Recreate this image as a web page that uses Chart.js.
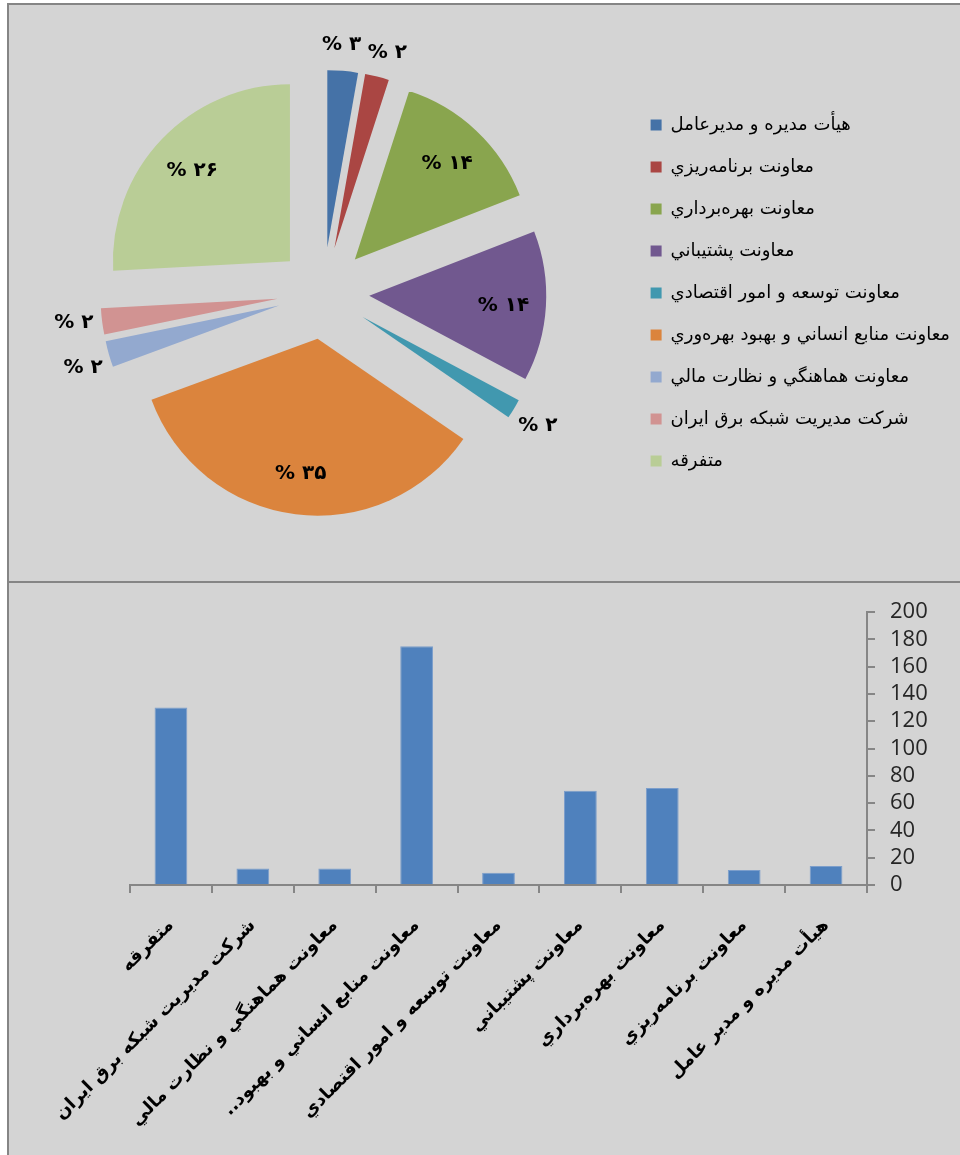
<!DOCTYPE html>
<html lang="fa">
<head>
<meta charset="utf-8">
<title>نمودار</title>
<script src="https://cdn.jsdelivr.net/npm/chart.js@4.4.1/dist/chart.umd.min.js"></script>
<style>
  html, body { margin: 0; padding: 0; background: #fff; }
  body { width: 960px; height: 1155px; position: relative; overflow: hidden; }
  .panel { position: absolute; background: #d4d4d4; box-sizing: border-box; }
  #topPanel { left: 7px; top: 3px; width: 970px; height: 580px; border: 2px solid #858585; }
  #bottomPanel { left: 7px; top: 583px; width: 970px; height: 600px; border-left: 2px solid #858585; }
  .box { position: absolute; }
  #pieBox { left: 10px; top: 5px; width: 950px; height: 576px; }
  #barBox { left: 10px; top: 583px; width: 950px; height: 572px; }
</style>
</head>
<body>
<div class="panel" id="topPanel"></div>
<div class="panel" id="bottomPanel"></div>
<div class="box" id="pieBox"><canvas id="pieChart"></canvas></div>
<div class="box" id="barBox"><canvas id="barChart"></canvas></div>
<script>
// داده‌ها
const departments = [
    'هيأت مديره و مديرعامل',
    'معاونت برنامه‌ريزي',
    'معاونت بهره‌برداري',
    'معاونت پشتيباني',
    'معاونت توسعه و امور اقتصادي',
    'معاونت منابع انساني و بهبود بهره‌وري',
    'معاونت هماهنگي و نظارت مالي',
    'شرکت مديريت شبکه برق ايران',
    'متفرقه'
];
// برچسب‌های محور افقی (RLM برای نقطه‌های انتهای متن راست‌به‌چپ)
const barLabels = [
    'هيأت مديره و مدير عامل',
    'معاونت برنامه‌ريزي',
    'معاونت بهره‌برداري',
    'معاونت پشتيباني',
    'معاونت توسعه و امور اقتصادي',
    'معاونت منابع انساني و بهبود..\u200F',
    'معاونت هماهنگي و نظارت مالي',
    'شرکت مديريت شبکه برق ايران',
    'متفرقه'
];
const counts = [14, 11, 71, 69, 9, 175, 12, 12, 130];
const yTicks = { min: 0, max: 200, step: 20 };

const pieColors = ['#4572A7', '#AA4643', '#89A54E', '#71588F', '#4198AF', '#DB843D', '#93A9CF', '#D19392', '#B9CD96'];
const EXPLODE = 46;
const MIN_LABEL_GAP = 11 * Math.PI / 180;

function toFa(s) {
    return String(s).replace(/\d/g, d => '۰۱۲۳۴۵۶۷۸۹'[d]);
}

// برش‌های جدا شده از مرکز
const explodePlugin = {
    id: 'explode',
    beforeDatasetDraw(chart, args) {
        const ctx = chart.ctx;
        args.meta.data.forEach(arc => {
            const mid = (arc.startAngle + arc.endAngle) / 2;
            ctx.save();
            ctx.translate(Math.cos(mid) * EXPLODE, Math.sin(mid) * EXPLODE);
            arc.draw(ctx);
            ctx.restore();
        });
        return false;
    }
};

// برچسب درصد روی برش‌ها
const pieLabelPlugin = {
    id: 'pieLabels',
    afterDatasetsDraw(chart) {
        const meta = chart.getDatasetMeta(0);
        const data = chart.data.datasets[0].data;
        const total = data.reduce((a, b) => a + b, 0);
        const items = meta.data.map((arc, i) => {
            const share = data[i] / total;
            const mid = (arc.startAngle + arc.endAngle) / 2;
            return { arc, share, mid, angle: mid, outside: share < 0.05 };
        });
        // برچسب‌های بیرونی نزدیک به هم را کمی از هم دور کن
        for (let i = 1; i < items.length; i++) {
            const a = items[i - 1], b = items[i];
            if (a.outside && b.outside && b.angle - a.angle < MIN_LABEL_GAP) {
                const m = (a.angle + b.angle) / 2;
                a.angle = m - MIN_LABEL_GAP / 2;
                b.angle = m + MIN_LABEL_GAP / 2;
            }
        }
        const ctx = chart.ctx;
        ctx.save();
        ctx.font = 'bold 20px "DejaVu Sans"';
        ctx.fillStyle = '#000';
        ctx.textAlign = 'center';
        ctx.textBaseline = 'middle';
        items.forEach(it => {
            const arc = it.arc;
            const cx = arc.x + Math.cos(it.mid) * EXPLODE;
            const cy = arc.y + Math.sin(it.mid) * EXPLODE;
            const r = it.outside ? arc.outerRadius + 28 : arc.outerRadius * 0.76;
            ctx.fillText('% ' + toFa(Math.round(it.share * 100)), cx + Math.cos(it.angle) * r, cy + Math.sin(it.angle) * r + 2);
        });
        ctx.restore();
    }
};

new Chart(document.getElementById('pieChart'), {
    type: 'pie',
    data: {
        labels: departments,
        datasets: [{
            data: counts,
            backgroundColor: pieColors,
            borderWidth: 0
        }]
    },
    options: {
        responsive: true,
        maintainAspectRatio: false,
        animation: false,
        radius: 177,
        layout: { padding: { left: 10 } },
        plugins: {
            legend: {
                position: 'right',
                maxWidth: 338,
                labels: {
                    boxWidth: 11,
                    boxHeight: 11,
                    padding: 24,
                    color: '#000',
                    font: { family: 'DejaVu Sans', size: 18 }
                }
            },
            tooltip: { enabled: false }
        }
    },
    plugins: [explodePlugin, pieLabelPlugin]
});

new Chart(document.getElementById('barChart'), {
    type: 'bar',
    data: {
        labels: barLabels,
        datasets: [{
            data: counts,
            backgroundColor: '#4F81BD',
            borderColor: '#7c9ecb',
            borderWidth: 1,
            barPercentage: 0.4,
            categoryPercentage: 1
        }]
    },
    options: {
        responsive: true,
        maintainAspectRatio: false,
        animation: false,
        layout: { padding: { left: 120, top: 29, right: 0, bottom: 0 } },
        plugins: {
            legend: { display: false },
            tooltip: { enabled: false }
        },
        scales: {
            x: {
                reverse: true,
                afterFit: s => { s.height = 270; },
                grid: { offset: true, drawOnChartArea: false, tickLength: 8, color: '#868686', lineWidth: 2 },
                border: { color: '#868686', width: 2 },
                ticks: {
                    autoSkip: false,
                    minRotation: 45,
                    maxRotation: 45,
                    padding: 22,
                    color: '#000',
                    font: { family: 'DejaVu Sans', size: 18, weight: 'bold' }
                }
            },
            y: {
                position: 'right',
                min: yTicks.min,
                max: yTicks.max,
                afterFit: s => { s.width = 93; },
                grid: { drawOnChartArea: false, tickLength: 8, color: '#868686', lineWidth: 2 },
                border: { color: '#868686', width: 2 },
                ticks: {
                    stepSize: yTicks.step,
                    autoSkip: false,
                    padding: 15,
                    color: '#262626',
                    font: { family: 'Open Sans', size: 22 }
                }
            }
        }
    }
});
</script>
</body>
</html>
